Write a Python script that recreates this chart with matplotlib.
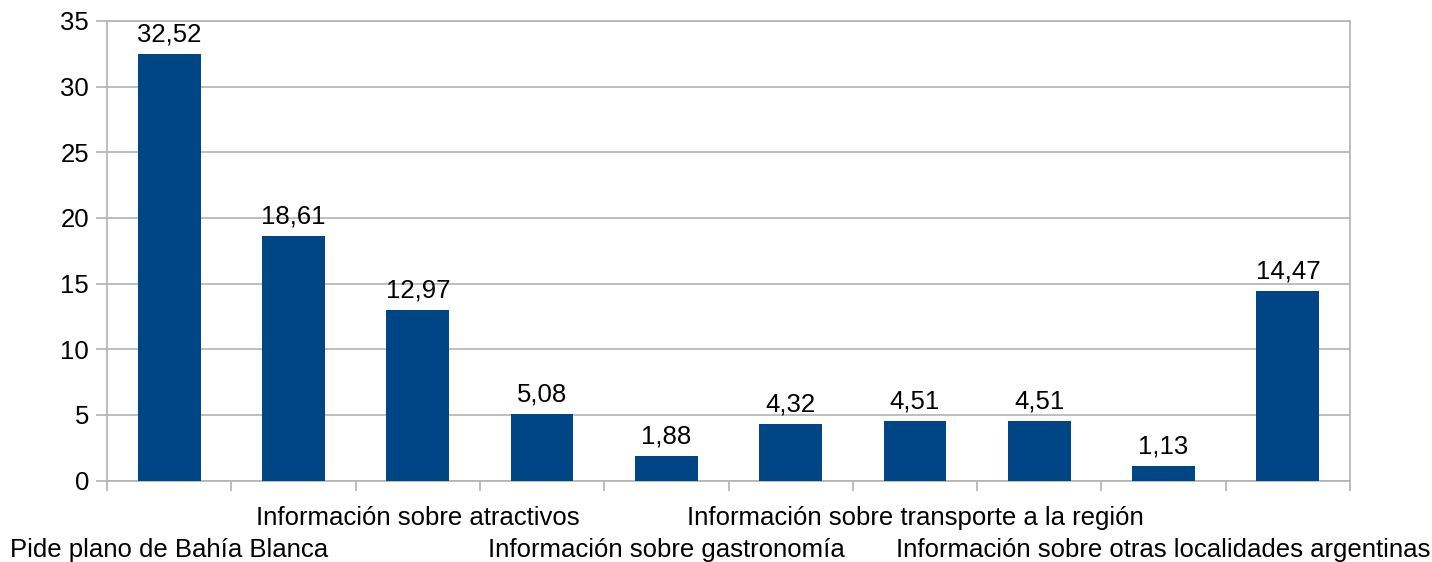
import matplotlib
matplotlib.use('Agg')
from matplotlib import pyplot as plt
from matplotlib import transforms
import numpy as np

# data
values = [32.52, 18.61, 12.97, 5.08, 1.88, 4.32, 4.51, 4.51, 1.13, 14.47]
# only the labels that are shown in the picture (others were hidden by overlap)
labels = ['Pide plano de Bahía Blanca', '', 'Información sobre atractivos', '',
          'Información sobre gastronomía', '', 'Información sobre transporte a la región', '',
          'Información sobre otras localidades argentinas', '']
yticks = [0, 5, 10, 15, 20, 25, 30, 35]

plt.rcParams['font.family'] = ['Liberation Sans', 'DejaVu Sans']
fsize = 18.5
grey = '#b3b3b3'

fig = plt.figure(figsize=(14.32, 5.62), dpi=100)
ax = fig.add_axes([107/1432, 1 - 480.5/562, (1350 - 107)/1432, (480.5 - 21)/562])

x = np.arange(len(values))
ax.bar(x, values, width=0.505, color='#004586', zorder=3)

ax.set_xlim(-0.5, len(values) - 0.5)
ax.set_ylim(0, 35)
ax.set_yticks(yticks)
ax.set_yticklabels([str(t) for t in yticks], fontsize=fsize)
ax.yaxis.grid(True, color=grey, linewidth=1.2, zorder=0)

# category boundaries as ticks, no labels there
ax.set_xticks(np.arange(len(values) + 1) - 0.5)
ax.set_xticklabels([])
ax.tick_params(axis='x', direction='out', length=7.5, width=1.2, color=grey)
ax.tick_params(axis='y', direction='out', length=8, width=1.2, color=grey, pad=5)

for s in ax.spines.values():
    s.set_color(grey)
    s.set_linewidth(1.2)

# data labels with comma decimals
for xi, v in zip(x, values):
    ax.annotate(('%.2f' % v).replace('.', ','), (xi, v), xytext=(0, 9), textcoords='offset points',
                ha='center', va='baseline', fontsize=fsize)

# staggered category labels
trans = transforms.blended_transform_factory(ax.transData, ax.transAxes)
for i, lab in enumerate(labels):
    if not lab:
        continue
    ypos = -0.0968 if (i // 2) % 2 == 1 else -0.1665
    ax.text(i, ypos, lab, transform=trans, ha='center', va='baseline', fontsize=fsize)

plt.savefig('out.png', dpi=100)
plt.close('all')
